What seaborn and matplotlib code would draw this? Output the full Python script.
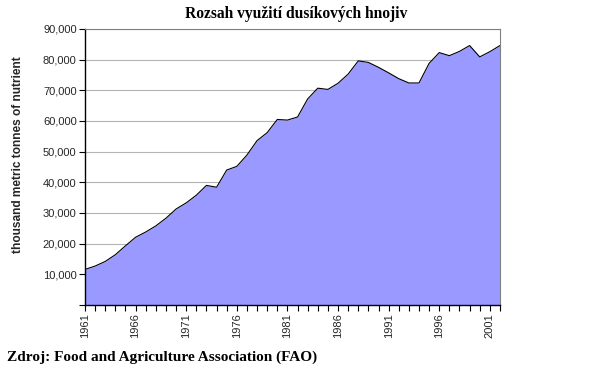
import pandas as pd
import seaborn as sns
import matplotlib.pyplot as plt

# data (thousand metric tonnes)
years = list(range(1961, 2003))
nitrogen = [11600, 12700, 14200, 16400, 19300, 22100, 23800, 25800, 28300, 31300,
            33300, 35800, 39000, 38400, 44000, 45200, 48900, 53600, 56200, 60500,
            60300, 61300, 67200, 70700, 70300, 72300, 75300, 79600, 79100, 77500,
            75700, 73800, 72400, 72400, 78800, 82300, 81300, 82700, 84600, 80900,
            82600, 84600]
label_years = [1961, 1966, 1971, 1976, 1981, 1986, 1991, 1996, 2001]
y_ticks = [10000, 20000, 30000, 40000, 50000, 60000, 70000, 80000, 90000]

df = pd.DataFrame({'rok': years, 'dusik': nitrogen})

sns.set_style('white')
plt.rcParams['font.family'] = ['Liberation Sans', 'DejaVu Sans']

fig = plt.figure(figsize=(6.01, 3.87), dpi=100)
ax = fig.add_axes([0.1414, 0.2119, 0.6905, 0.7132])

## plocha + obrys
ax.fill_between(df['rok'], df['dusik'], color='#9999ff', lw=0, zorder=2)
sns.lineplot(data=df, x='rok', y='dusik', color='black', lw=0.8, ax=ax, zorder=3)

ax.set_xlim(1961, 2002)
ax.set_ylim(0, 90000)

ax.set_yticks([0] + y_ticks)
ax.set_yticklabels([''] + [f'{v:,}' for v in y_ticks], fontsize=8)
ax.yaxis.grid(True, color='#b4b4b4', lw=0.8, zorder=1)
ax.set_axisbelow(True)

ax.set_xticks(label_years)
ax.set_xticklabels([str(y) for y in label_years], rotation=90, fontsize=8)
ax.set_xticks(years, minor=True)
ax.tick_params(axis='both', which='both', direction='out', length=4, width=0.8,
               color='black', bottom=True, left=True, pad=2)

ax.set_xlabel('')
ax.set_ylabel('thousand metric tonnes of nutrient', fontsize=8.6, fontweight='bold')
ax.yaxis.set_label_coords(-0.146, 0.545)

for s in ['left', 'bottom']:
    ax.spines[s].set_color('black')
    ax.spines[s].set_linewidth(1)
for s in ['top', 'right']:
    ax.spines[s].set_color('#808080')
    ax.spines[s].set_linewidth(0.8)

fig.text(296 / 601, 1 - 14 / 387, 'Rozsah využití dusíkových hnojiv',
         family='Liberation Serif', fontweight='bold', fontsize=11.2,
         color='black', ha='center', va='center')
fig.text(7 / 601, 1 - 357 / 387, 'Zdroj: Food and Agriculture Association (FAO)',
         family='Liberation Serif', fontweight='bold', fontsize=11,
         color='black', ha='left', va='center')

fig.savefig('out.png', dpi=100)
